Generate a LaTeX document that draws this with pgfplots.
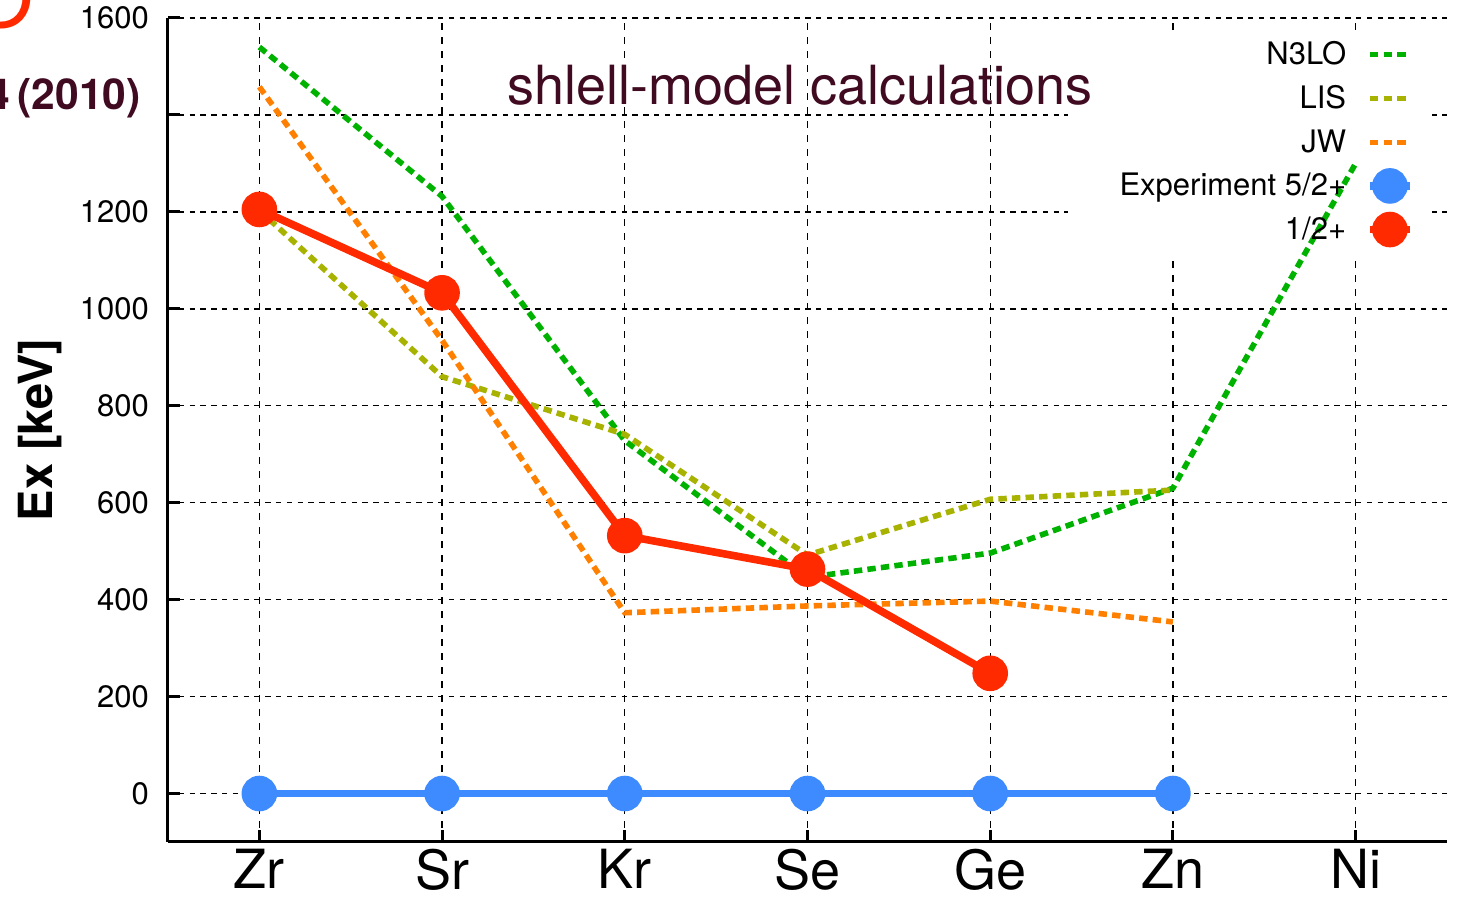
\documentclass[border=0pt]{standalone}
\usepackage{pgfplots}
\pgfplotsset{compat=1.18}
\usepackage{fontspec}
\setmainfont{TeX Gyre Heros}
\definecolor{cN}{RGB}{0,178,0}
\definecolor{cL}{RGB}{168,178,0}
\definecolor{cJ}{RGB}{255,128,0}
\definecolor{cE}{RGB}{61,139,255}
\definecolor{cR}{RGB}{255,42,0}
\definecolor{maroon}{RGB}{64,10,32}

\pgfplotsset{
 common/.style={
  scale only axis, width=639.5pt, height=412pt,
  xmin=-0.5, xmax=6.5, ymin=-100, ymax=1600,
  at={(0,0)}, anchor=south west,
 },
 dotline/.style={line width=2.8pt, dash pattern=on 4.2pt off 2.6pt},
}

\begin{document}
\begin{tikzpicture}
\path[use as bounding box] (-84pt,-28pt) rectangle (649pt,421pt);
\begin{axis}[common,
  axis x line=bottom, axis y line=left,
  axis line style={line width=1.5pt, -},
  xtick={0,...,6}, xticklabels={Zr,Sr,Kr,Se,Ge,Zn,Ni},
  ytick={0,200,...,1600}, yticklabels={0,200,400,600,800,1000,1200,,1600},
  tick align=inside, major tick length=6pt,
  tick style={line width=1.5pt, black},
  xmajorgrids, ymajorgrids,
  x grid style={black, line width=0.7pt, dash pattern=on 3.5pt off 3.5pt},
  y grid style={black, line width=0.7pt, dash pattern=on 2.7pt off 2.7pt},
  xticklabel style={font=\fontsize{27}{30}\selectfont},
  yticklabel style={font=\fontsize{15.5}{18}\selectfont, xshift=-6pt},
  /pgf/number format/assume math mode=true,
  ylabel={Ex [keV]},
  ylabel style={at={(rel axis cs:-0.1,0.5)}, anchor=center, font=\bfseries\fontsize{23.5}{26}\selectfont},
  legend cell align=right, legend plot pos=right,
  legend style={at={(rel axis cs:0.979,0.982)}, anchor=north east, draw=none, fill=none,
     font=\fontsize{15.5}{18}\selectfont, row sep=5pt},
  legend image code/.code={\path (-8pt,0pt); \draw[mark repeat=2,mark phase=2] plot coordinates {(0pt,0pt)(10pt,0pt)(20pt,0pt)};},
]
\fill[white] (rel axis cs:0.7037,0.7124) rectangle (rel axis cs:0.9883,0.9854);
\addplot[cN, dotline] coordinates {(0,1540) (1,1232) (2,728) (3,446) (4,496) (5,630) (6,1300)};
\addlegendentry{N3LO}
\addplot[cL, dotline] coordinates {(0,1203) (1,860) (2,741) (3,492) (4,607) (5,626)};
\addlegendentry{LIS}
\addplot[cJ, dotline] coordinates {(0,1458) (1,935) (2,373) (3,387) (4,397) (5,354)};
\addlegendentry{JW}
\addplot[cE, line width=3.8pt, mark=*, mark size=7pt] coordinates {(0,0) (1,0) (2,0) (3,0) (4,0) (5,0)};
\addlegendentry{Experiment 5/2+}
\addplot[cR, line width=3.8pt, mark=*, mark size=7pt] coordinates {(0,1205) (1,1033) (2,532) (3,463) (4,248)};
\addlegendentry{1/2+}
\node[anchor=base, text=maroon, font=\fontsize{27}{30}\selectfont] at (axis cs:2.96,1421) {shlell-model calculations};
\end{axis}
\node[anchor=base east, inner sep=0pt, text=maroon, font=\bfseries\fontsize{21.3}{24}\selectfont] at (-13.5pt,366pt) {4\,(2010)};
\node[anchor=base east, text=cR, font=\fontsize{42}{46}\selectfont, inner sep=0pt] at (-67pt,407pt) {O};
\end{tikzpicture}
\end{document}
